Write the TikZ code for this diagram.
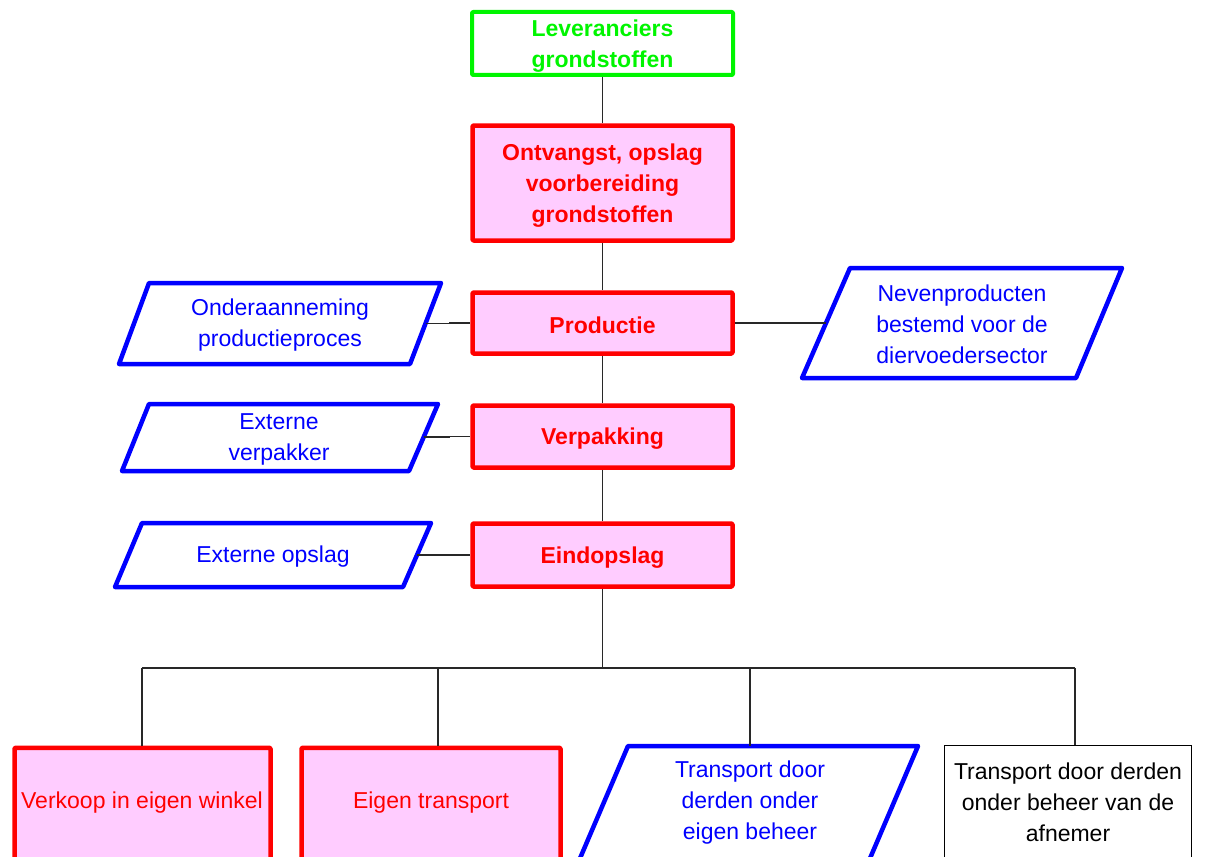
\documentclass[tikz,border=0pt]{standalone}
\usepackage{fontspec}
\setmainfont{Liberation Sans}
\definecolor{cgreen}{RGB}{0,245,0}
\definecolor{pinkfill}{RGB}{255,204,255}
\definecolor{cred}{RGB}{255,0,0}
\definecolor{cblue}{RGB}{0,0,255}
\definecolor{conn}{RGB}{40,40,40}
\begin{document}
\begin{tikzpicture}[x=1pt,y=-1pt,
  txt/.style={font=\fontsize{23}{31}\selectfont, align=center, inner sep=0pt, yshift=-2.5pt},
  boldtxt/.style={font=\fontsize{23}{31}\selectfont\bfseries, align=center, inner sep=0pt, yshift=-2.5pt},
  greenbox/.style={draw=cgreen, line width=4pt, fill=white, line join=round, rounded corners=1pt, minimum width=261pt},
  redbox/.style={draw=cred, line width=4.5pt, fill=pinkfill, line join=round, rounded corners=1pt, minimum width=260pt},
  redplain/.style={draw=cred, line width=4.5pt, fill=pinkfill, line join=round, rounded corners=1pt, inner sep=0pt},
  plainbox/.style={draw=black, line width=1pt, fill=white, inner sep=0pt},
  para/.style={draw=cblue, line width=4.5pt, fill=white, line join=round},
  bluetxt/.style={txt, text=cblue},
  redtxt/.style={txt, text=cred},
  blacktxt/.style={txt, text=black},
  greenlbl/.style={label={[boldtxt, text=cgreen]center:{#1}}},
  redlbl/.style={label={[boldtxt, text=cred]center:{#1}}},
  link/.style={draw=conn, line width=1.1pt}
]
\clip (0,0) rectangle (1214,856);
\fill[white] (0,0) rectangle (1214,856);

% main column
\node[greenbox, minimum height=63pt, greenlbl={Leveranciers\\grondstoffen}] (lev) at (602.5,43.5) {};
\node[redbox, minimum height=115pt, redlbl={Ontvangst, opslag\\voorbereiding\\grondstoffen}] (ont) at (602.5,183) {};
\node[redbox, minimum height=61pt, redlbl={Productie}] (prod) at (602.5,323) {};
\node[redbox, minimum height=62pt, redlbl={Verpakking}] (verp) at (602.5,436.5) {};
\node[redbox, minimum height=63pt, redlbl={Eindopslag}] (eind) at (602.5,555) {};

% left parallelograms
\draw[para] (149,283) -- (441,283) -- (410,364) -- (119,364) -- cycle;
\coordinate (p1e) at (425.5,323.5);
\node[bluetxt] (p1) at (280,323) {Onderaanneming\\productieproces};

\draw[para] (149,404) -- (438,404) -- (409,471) -- (122,471) -- cycle;
\coordinate (p2e) at (423.5,437);
\node[bluetxt] (p2) at (279,436.5) {Externe\\verpakker};

\draw[para] (142,523) -- (431,523) -- (403,587) -- (115,587) -- cycle;
\coordinate (p3e) at (417,555);
\node[bluetxt] (p3) at (273,554) {Externe opslag};

% right parallelogram
\draw[para] (850,268) -- (1122,268) -- (1076,378) -- (802,378) -- cycle;
\coordinate (p4w) at (826,323);
\node[bluetxt] (p4) at (962,322) {Nevenproducten\\bestemd voor de\\diervoedersector};

% bottom row
\node[redplain, anchor=north, minimum width=256pt, minimum height=130pt] (verk) at (142.5,745.5) {};
\node[redtxt] (verkt) at (142,800) {Verkoop in eigen winkel};
\node[redplain, anchor=north, minimum width=259pt, minimum height=130pt] (eig) at (431,745.5) {};
\node[redtxt] (eigt) at (431,800) {Eigen transport};
\draw[para] (628,746) -- (918,746) -- (865,870) -- (575,870) -- cycle;
\coordinate (p5n) at (750,746);
\node[bluetxt] (p5) at (750,800) {Transport door\\derden onder\\eigen beheer};
\node[plainbox, anchor=north, minimum width=247pt, minimum height=130pt] (afn) at (1068,744.5) {};
\node[blacktxt] (afnt) at (1068,800) {Transport door derden\\onder beheer van de\\afnemer};

% connectors
\coordinate (bus) at (602.5,668);
\coordinate (bL) at (142,668);
\coordinate (b2) at (438,668);
\coordinate (b3) at (750,668);
\coordinate (bR) at (1075,668);
\draw[link] (lev.south) -- (ont.north);
\draw[link] (ont.south) -- (prod.north);
\draw[link] (prod.south) -- (verp.north);
\draw[link] (verp.south) -- (eind.north);
\draw[link] (eind.south) -- (bus);
\draw[link] (bL) -- (bR);
\draw[link] (bL) -- (bL |- verk.north);
\draw[link] (b2) -- (b2 |- eig.north);
\draw[link] (b3) -- (p5n);
\draw[link] (bR) -- (bR |- afn.north);
\draw[link] (p1e) -- ++(24,0) |- (prod.west);
\draw[link] (p2e) -- ++(26,0) |- (verp.west);
\draw[link] (p3e) -- (p3e -| eind.west);
\draw[link] (prod.east) -- (p4w);
\end{tikzpicture}
\end{document}
